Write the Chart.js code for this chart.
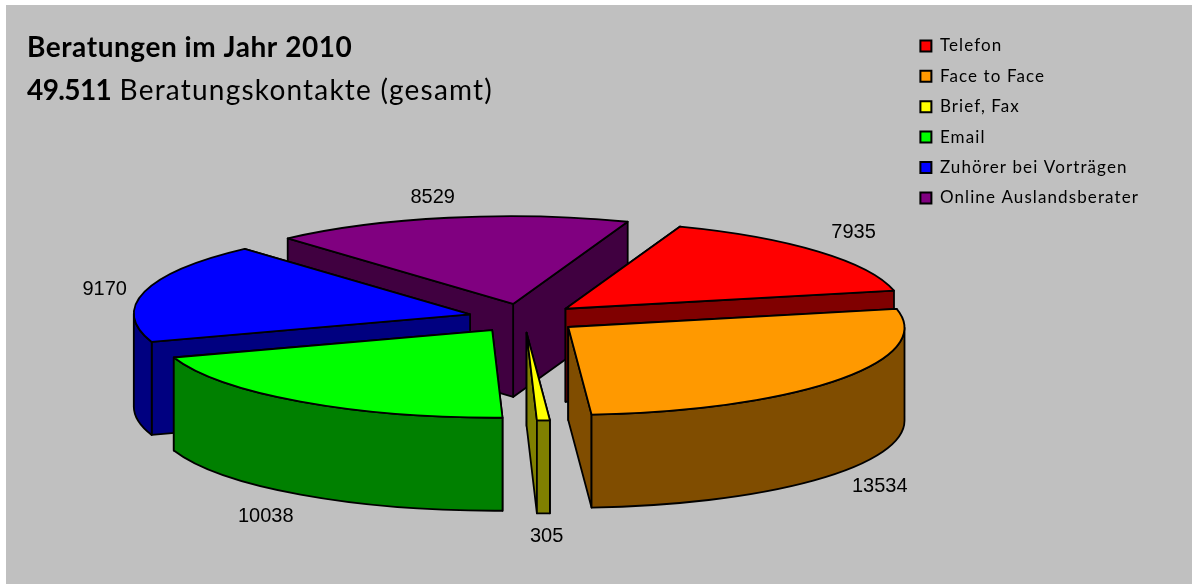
<!DOCTYPE html>
<html>
<head>
<meta charset="utf-8">
<title>Beratungen im Jahr 2010</title>
<script src="https://cdn.jsdelivr.net/npm/chart.js@4"></script>
<style>
    html, body { margin: 0; padding: 0; background: #ffffff; }
    #wrap { position: absolute; left: 6px; top: 5px; width: 1186px; height: 579px; background: #c0c0c0; }
</style>
</head>
<body>
<div id="wrap"><canvas id="grafico" width="1186" height="579"></canvas></div>
<script>
var categorias = ["Telefon", "Face to Face", "Brief, Fax", "Email", "Zuhörer bei Vorträgen", "Online Auslandsberater"];
var valores = [7935, 13534, 305, 10038, 9170, 8529];
var colores = ["#ff0000", "#ff9900", "#ffff00", "#00ff00", "#0000ff", "#800080"];
var coloresLado = ["#800000", "#804d00", "#808000", "#008000", "#000080", "#400040"];
var tituloNegrita = "Beratungen im Jahr 2010";
var totalNegrita = "49.511";
var subtitulo = " Beratungskontakte (gesamt)";

/*=============================================
PIE 3D: plano inclinado (matriz afin sobre el radio unidad)
=============================================*/
var OFF_X = 6, OFF_Y = 5;
var centroX = 523.8 - OFF_X, centroY = 318.2 - OFF_Y;
var eje = { a: 333.5, b: -10.5, c: 43.2, d: 87.1 };
var profundidad = 93;
var explosion = 0.165;
var ordenDibujo = [5, 0, 4, 3, 2, 1]; // de atras hacia adelante
// ajuste fino de cada etiqueta, en px
var ajusteEtiqueta = [[1, -11], [6, 6], [1, 11], [-9, 12], [4, 1], [-7, -9]];

function proyectar(u, v) {
    return {
        x: centroX + eje.a * u + eje.c * v,
        y: centroY + eje.b * u + eje.d * v
    };
}

// angulo donde la pared exterior empieza a mirar al frente
var silueta = Math.atan2(eje.c, eje.a);

function pathSector(ctx, ini, fin, ox, oy, dy) {
    ctx.save();
    ctx.transform(eje.a, eje.b, eje.c, eje.d, centroX, centroY + dy);
    ctx.beginPath();
    ctx.moveTo(ox, oy);
    ctx.arc(ox, oy, 1, ini, fin);
    ctx.closePath();
    ctx.restore();
}

function pared(ctx, ox, oy, angulo, color) {
    var p0 = proyectar(ox, oy);
    var p1 = proyectar(ox + Math.cos(angulo), oy + Math.sin(angulo));
    ctx.beginPath();
    ctx.moveTo(p0.x, p0.y);
    ctx.lineTo(p1.x, p1.y);
    ctx.lineTo(p1.x, p1.y + profundidad);
    ctx.lineTo(p0.x, p0.y + profundidad);
    ctx.closePath();
    ctx.fillStyle = color;
    ctx.fill();
    ctx.stroke();
}

function paredExterior(ctx, ox, oy, ini, fin, color) {
    // normaliza al rango [silueta, silueta + PI] que es el visible
    var TAU = Math.PI * 2;
    [-TAU, 0, TAU].forEach(function (k) {
        var a = Math.max(ini + k, silueta);
        var b = Math.min(fin + k, silueta + Math.PI);
        if (b <= a) return;
        ctx.save();
        ctx.transform(eje.a, eje.b, eje.c, eje.d, centroX, centroY);
        ctx.beginPath();
        ctx.arc(ox, oy, 1, a, b);
        ctx.restore();
        var pb = proyectar(ox + Math.cos(b), oy + Math.sin(b));
        ctx.lineTo(pb.x, pb.y + profundidad);
        ctx.save();
        ctx.transform(eje.a, eje.b, eje.c, eje.d, centroX, centroY + profundidad);
        ctx.arc(ox, oy, 1, b, a, true);
        ctx.restore();
        ctx.closePath();
        ctx.fillStyle = color;
        ctx.fill();
        ctx.stroke();
    });
}

var pie3d = {
    id: "pie3d",
    // el canvas se reinicia al crear el Chart, por eso se pone aqui
    beforeLayout: function (chart) {
        chart.ctx.letterSpacing = "1.1px"; // la leyenda va algo mas abierta
    },
    beforeDatasetDraw: function (chart) {
        var ctx = chart.ctx;
        var arcos = chart.getDatasetMeta(0).data;
        ctx.save();
        ctx.lineWidth = 1.8;
        ctx.lineJoin = "round";
        ctx.strokeStyle = "#000000";
        ordenDibujo.forEach(function (i) {
            var ini = arcos[i].startAngle, fin = arcos[i].endAngle;
            var medio = (ini + fin) / 2;
            var ox = Math.cos(medio) * explosion, oy = Math.sin(medio) * explosion;
            // paredes radiales, primero la que queda mas atras
            var lados = [ini, fin].sort(function (p, q) {
                return proyectar(Math.cos(p), Math.sin(p)).y - proyectar(Math.cos(q), Math.sin(q)).y;
            });
            lados.forEach(function (ang) { pared(ctx, ox, oy, ang, coloresLado[i]); });
            paredExterior(ctx, ox, oy, ini, fin, coloresLado[i]);
            pathSector(ctx, ini, fin, ox, oy, 0);
            ctx.fillStyle = colores[i];
            ctx.fill();
            ctx.stroke();
        });
        ctx.restore();
        return false; // el arco plano por defecto no se dibuja
    },
    afterDraw: function (chart) {
        var ctx = chart.ctx;
        var arcos = chart.getDatasetMeta(0).data;
        ctx.save();
        ctx.letterSpacing = "0px";
        ctx.fillStyle = "#000000";
        ctx.textAlign = "center";
        ctx.textBaseline = "middle";
        ctx.font = "20px 'Liberation Sans', Arial, sans-serif";
        arcos.forEach(function (arco, i) {
            var medio = (arco.startAngle + arco.endAngle) / 2;
            var alcance = 1.3;
            var pos = proyectar(Math.cos(medio) * alcance, Math.sin(medio) * alcance);
            var abajo = Math.sin(medio) > 0 ? profundidad : 0;
            ctx.fillText(String(valores[i]), pos.x + ajusteEtiqueta[i][0], pos.y + abajo + ajusteEtiqueta[i][1]);
        });
        // titulo
        ctx.textAlign = "left";
        ctx.textBaseline = "alphabetic";
        ctx.letterSpacing = "0.55px";
        ctx.font = "bold 28px Lato, sans-serif";
        ctx.fillText(tituloNegrita, 27 - OFF_X, 57 - OFF_Y);
        ctx.letterSpacing = "-0.6px";
        ctx.fillText(totalNegrita, 27 - OFF_X, 100 - OFF_Y);
        var ancho = ctx.measureText(totalNegrita).width;
        ctx.letterSpacing = "1.2px";
        ctx.font = "28px Lato, sans-serif";
        ctx.fillText(subtitulo, 27 - OFF_X + ancho, 100 - OFF_Y);
        ctx.restore();
    }
};

new Chart(document.getElementById("grafico").getContext("2d"), {
    type: "pie",
    data: {
        labels: categorias,
        datasets: [{
            data: valores,
            backgroundColor: colores,
            borderColor: "#000000",
            borderWidth: 2
        }]
    },
    options: {
        responsive: false,
        animation: false,
        rotation: 27.3,
        layout: { padding: { top: 19, right: 43 } },
        plugins: {
            tooltip: { enabled: false },
            legend: {
                position: "right",
                align: "start",
                labels: {
                    boxWidth: 11,
                    boxHeight: 11,
                    padding: 13.4,
                    color: "#000000",
                    font: { family: "Lato, sans-serif", size: 17 }
                }
            }
        }
    },
    plugins: [pie3d]
});
</script>
</body>
</html>
